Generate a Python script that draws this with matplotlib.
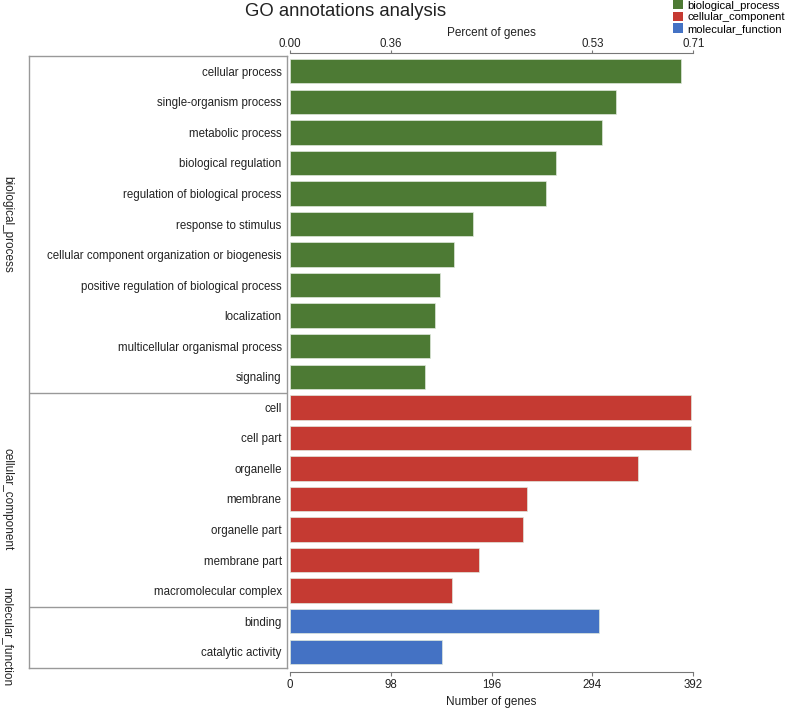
import numpy as np
import matplotlib
matplotlib.use("Agg")
import matplotlib.pyplot as plt
from matplotlib.patches import Patch

plt.rcParams['font.family'] = ['Liberation Sans', 'DejaVu Sans']

# GO terms and gene counts
bp_terms = ["cellular process", "single-organism process", "metabolic process",
            "biological regulation", "regulation of biological process",
            "response to stimulus", "cellular component organization or biogenesis",
            "positive regulation of biological process", "localization",
            "multicellular organismal process", "signaling"]
bp_counts = [380, 317, 303, 259, 249, 178, 159, 146, 141, 136, 131]

cc_terms = ["cell", "cell part", "organelle", "membrane", "organelle part",
            "membrane part", "macromolecular complex"]
cc_counts = [390, 390, 338, 230, 226, 184, 157]

mf_terms = ["binding", "catalytic activity"]
mf_counts = [300, 148]

groups = ["biological_process", "cellular_component", "molecular_function"]
colors = ["#4d7a34", "#c53a32", "#4472c4"]

bottom_ticks = [0, 98, 196, 294, 392]
top_ticks = [0, 98, 294, 392]
top_labels = ["0.00", "0.36", "0.53", "0.71"]


def px(x):
    return x / 789


def py(y):
    return 1 - y / 710


fig = plt.figure(figsize=(7.89, 7.10), dpi=100)

top_px, bot_px = 56, 667

terms = bp_terms + cc_terms + mf_terms
counts = bp_counts + cc_counts + mf_counts
sizes = [len(bp_terms), len(cc_terms), len(mf_terms)]

# label box on the left (drawn first, transparent)
box = fig.add_axes([px(29), py(bot_px + 1), px(287 - 29), (bot_px + 1 - top_px) / 710])
box.patch.set_visible(False)
box.set_xlim(0, 1)
box.set_ylim(len(terms) - 0.5, -0.5)
box.set_xticks([])
box.set_yticks([])
for s in box.spines.values():
    s.set_color("#999")
    s.set_linewidth(1)
start = 0
for g, n in zip(groups, sizes):
    if start > 0:
        box.axhline(start - 0.5, color="#999", lw=1)
    mid = start + (n - 1) / 2
    fig.text(px(7), py(top_px + (mid + 0.5) * (bot_px - top_px) / len(terms)), g,
             rotation=-90, ha="center", va="center", fontsize=8.5, color="#222")
    start += n

ax = fig.add_axes([px(290), py(bot_px), px(693.3 - 290), (bot_px - top_px) / 710])
ax.patch.set_visible(False)

bar_colors = []
for c, n in zip(colors, sizes):
    bar_colors += [c] * n

y = np.arange(len(terms))
ax.barh(y, counts, height=0.8, color=bar_colors, edgecolor="#dfe8dc", linewidth=0.5)
ax.set_ylim(len(terms) - 0.5, -0.5)
ax.set_xlim(0, 392)
ax.set_yticks(y)
ax.set_yticklabels(terms, fontsize=8.3, color="#222")
ax.tick_params(axis="y", length=0, pad=6)
ax.set_xticks(bottom_ticks)
ax.tick_params(axis="x", length=3, color="#777", labelsize=8.3, labelcolor="#222", pad=2)
ax.set_xlabel("Number of genes", fontsize=8.5, color="#222", labelpad=4)
for s in ["left", "right", "top"]:
    ax.spines[s].set_visible(False)
ax.spines["bottom"].set_position(("outward", 3.5))
ax.spines["bottom"].set_color("#777")

# top axis with percent of genes
ax2 = ax.twiny()
ax2.set_xlim(0, 392)
ax2.set_xticks(top_ticks)
ax2.set_xticklabels(top_labels)
ax2.tick_params(axis="x", length=2.5, color="#777", labelsize=8.3, labelcolor="#222", pad=0)
ax2.set_xlabel("Percent of genes", fontsize=8.5, color="#222", labelpad=1.5)
for s in ["left", "right", "bottom"]:
    ax2.spines[s].set_visible(False)
ax2.spines["top"].set_position(("outward", 2))
ax2.spines["top"].set_color("#777")

fig.text(px(346), py(11), "GO annotations analysis", ha="center", va="center",
         fontsize=13.3, color="#222")

handles = [Patch(facecolor=c, edgecolor="none") for c in colors]
fig.legend(handles, groups, loc="upper left", bbox_to_anchor=(px(673), py(0)),
           frameon=False, fontsize=8.1, handlelength=0.9, handleheight=0.9,
           handletextpad=0.35, labelspacing=0.1, borderpad=0, borderaxespad=0)

fig.savefig("out.png", dpi=100)
